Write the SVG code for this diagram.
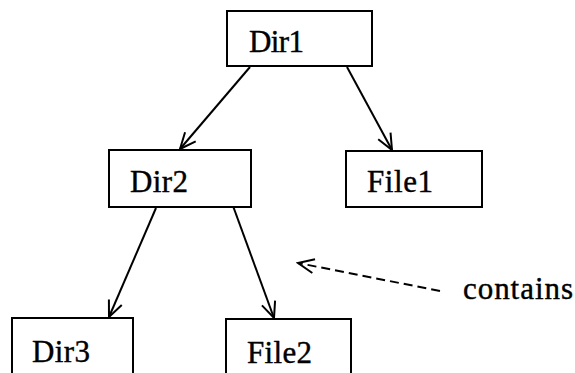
<svg xmlns="http://www.w3.org/2000/svg" width="575" height="373" viewBox="0 0 575 373">
  <style>
    .box { fill: #fff; stroke: #000; stroke-width: 2; }
    .lbl { font-family: 'Liberation Serif', 'Times New Roman', serif; font-size: 31px; fill: #000; stroke: #000; stroke-width: 0.4; }
    .edge { fill: none; stroke: #000; stroke-width: 2; marker-end: url(#vhead); }
    .dash { stroke-dasharray: 9 5; }
  </style>
  <defs>
    <marker id="vhead" markerUnits="userSpaceOnUse" viewBox="-18 -10 20 20" refX="0" refY="0" markerWidth="20" markerHeight="20" orient="auto">
      <path d="M -16 -7 L 0 0 L -16 7" fill="none" stroke="#000" stroke-width="2"/>
    </marker>
  </defs>

  <rect width="575" height="373" fill="#fff"/>

  <!-- containment arrows -->
  <g id="connectors">
    <line class="edge" x1="250" y1="67" x2="180" y2="149"/>
    <line class="edge" x1="347" y1="67" x2="392" y2="150"/>
    <line class="edge" x1="156" y1="208" x2="109" y2="317"/>
    <line class="edge" x1="229" y1="195" x2="274" y2="318"/>
    <line class="edge dash" x1="440" y1="291" x2="298" y2="263"/>
  </g>

  <g id="dir1">
    <rect class="box" x="227" y="11" width="145" height="55"/>
    <text class="lbl" x="249" y="52" textLength="55">Dir1</text>
  </g>
  <g id="dir2">
    <rect class="box" x="109" y="150" width="142" height="57"/>
    <text class="lbl" x="130" y="192" textLength="58">Dir2</text>
  </g>
  <g id="file1">
    <rect class="box" x="346" y="151" width="136" height="56"/>
    <text class="lbl" x="367" y="192" textLength="66">File1</text>
  </g>
  <g id="dir3">
    <rect class="box" x="12" y="318" width="121" height="70"/>
    <text class="lbl" x="32" y="362" textLength="58">Dir3</text>
  </g>
  <g id="file2">
    <rect class="box" x="226" y="319" width="125" height="70"/>
    <text class="lbl" x="247" y="363" textLength="65">File2</text>
  </g>
  <g id="contains">
    <text class="lbl" x="463" y="299" textLength="110">contains</text>
  </g>
</svg>
